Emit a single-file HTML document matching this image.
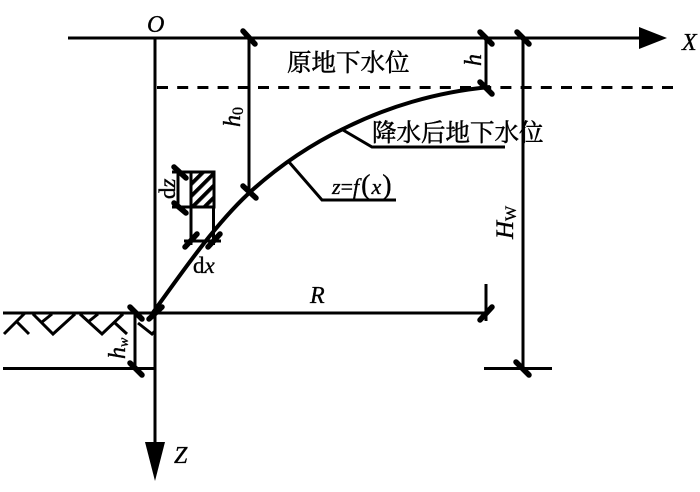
<!DOCTYPE html>
<html>
<head>
<meta charset="utf-8">
<style>
html,body{margin:0;padding:0;background:#fff;width:700px;height:492px;overflow:hidden}
svg{display:block}
text{font-family:"Liberation Serif","Noto Serif CJK SC",serif;fill:#000;stroke:#000;stroke-width:.35px}
.i{font-style:italic}
.c{font-family:"Liberation Serif","Noto Serif CJK SC",serif;font-size:24.5px;stroke-width:.5px}
</style>
</head>
<body>
<svg width="700" height="492" viewBox="0 0 700 492" xmlns="http://www.w3.org/2000/svg">
<defs>
<pattern id="h" width="8.500" height="8.500" patternUnits="userSpaceOnUse" patternTransform="rotate(-45)">
<rect width="8.500" height="3.800" fill="#000"/>
</pattern>
</defs>
<g fill="none" stroke="#000" stroke-width="3">
<!-- axes -->
<path d="M68 38H642"/>
<path d="M155 38V445"/>
<!-- dashed -->
<path d="M157 87.500H678" stroke-dasharray="11 9.200"/>
<!-- verticals -->
<path d="M249 38V193"/>
<path d="M486 38V88"/>
<path d="M523 38V368"/>
<path d="M486 284V321"/>
<path d="M155 313H486"/>
<path d="M484 368.500H552"/>
<path d="M135 313V368"/>
<!-- ground -->
<path d="M3 313H155"/>
<path d="M3 368.500H155"/>
<path d="M4 334L25 313M17 322L29 334M33 314L53 334L75 314M52 314L42 322M80 314L102 334L123 314M98 314L88 322M115 323L127 334M138 323L152 334L155 331"/>
<!-- curve -->
<path d="M152 314C185 268 215 225 248 194C285 160 320 140 345 128C385 108 435 92 490 87" stroke-width="4"/>
<!-- leaders -->
<path d="M289 162L322 200H396"/>
<path d="M343 130L372 147H505"/>
<!-- element -->
<rect x="191" y="172" width="23" height="35" fill="url(#h)"/>
<path d="M172 172H190M172 207H190M178 172V207M191 207V245M213.500 207V245M184 241H221"/>
</g>
<!-- ticks -->
<g fill="none" stroke="#000" stroke-width="5.500" stroke-linecap="round">
<path d="M243 31L255 44M480 32L492 44M517 32L529 44M480 82L492 94"/>
<path d="M243 186L256 198"/>
<path d="M174 167L186 178M174 203L186 213M197 234L185 247M220 234L208 247"/>
<path d="M130 307L142 319M149 319L162 307M130 363L142 375"/>
<path d="M492 307L480 320M516 362L529 375"/>
</g>
<!-- arrowheads -->
<polygon points="639,27 667,38 639,49" fill="#000"/>
<polygon points="145,442 165,442 155,481" fill="#000"/>
<!-- labels -->
<text x="147" y="32" class="i" font-size="24">O</text>
<text x="682" y="50" class="i" font-size="24">X</text>
<text x="174" y="463" class="i" font-size="24">Z</text>
<text x="310" y="303" class="i" font-size="24">R</text>
<text x="287" y="71" class="c">原地下水位</text>
<text x="372" y="141" class="c">降水后地下水位</text>
<text x="332" y="194" font-size="22"><tspan class="i">z</tspan>=<tspan class="i">f</tspan><tspan font-size="28" dx="2">(</tspan><tspan class="i" dx="1">x</tspan><tspan font-size="28" dx="1">)</tspan></text>
<text x="193" y="273" font-size="23">d<tspan class="i">x</tspan></text>
<text transform="translate(175,199) rotate(-90)" font-size="23">d<tspan class="i">z</tspan></text>
<text transform="translate(240,127) rotate(-90)" class="i" font-size="24">h<tspan font-size="16" dy="3" font-style="normal">0</tspan></text>
<text transform="translate(481,66) rotate(-90)" class="i" font-size="24">h</text>
<text transform="translate(513,239) rotate(-90)" class="i" font-size="25">H<tspan font-size="16" dy="3" font-style="normal">W</tspan></text>
<text transform="translate(125,359) rotate(-90)" class="i" font-size="24">h<tspan font-size="14" dy="3">w</tspan></text>
</svg>
</body>
</html>
